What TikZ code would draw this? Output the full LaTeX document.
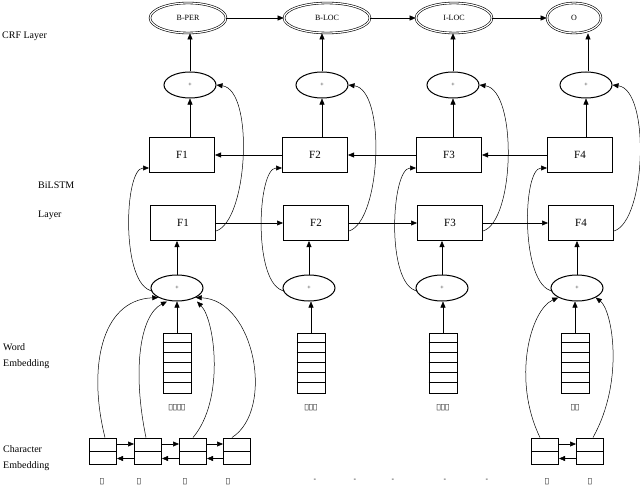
\documentclass[tikz,border=0pt]{standalone}
\usepackage{fontspec}
\setmainfont{Liberation Serif}
\newfontfamily\eth{DejaVu Sans}
\usetikzlibrary{shapes.geometric,arrows.meta}
\begin{document}
\begin{tikzpicture}[x=1pt,y=-1pt,
  arr/.style={-{Triangle[length=6pt,width=5pt]},line width=0.5pt},
  crf/.style={ellipse,draw,double,double distance=1.2pt,line width=0.6pt,minimum width=76pt,minimum height=30pt,inner sep=0pt,font=\fontsize{8}{9}\selectfont},
  plusn/.style={ellipse,draw,line width=1pt,minimum width=52pt,minimum height=26pt,inner sep=0pt,font=\fontsize{6}{7}\selectfont},
  fbox/.style={rectangle,draw,line width=1pt,minimum width=65pt,minimum height=35pt,inner sep=0pt,font=\fontsize{11}{13}\selectfont},
  cbox/.style={rectangle,draw,line width=1pt,minimum width=27pt,minimum height=26pt,inner sep=0pt},
  vec/.style={rectangle,draw,line width=1pt,minimum width=28pt,minimum height=60pt,inner sep=0pt},
  lab/.style={font=\fontsize{10}{16}\selectfont,align=left,anchor=west,inner sep=0pt},
  eth/.style={font=\eth\fontsize{7}{8}\selectfont,inner sep=0pt}]
\useasboundingbox (0,0) rectangle (640,487);
% left labels
\node[lab] (l1) at (2,36) {CRF Layer};
\node[lab] (l2) at (38,185) {BiLSTM};
\node[lab] (l3) at (38,215) {Layer};
\node[lab] (l4) at (3,356) {Word\\Embedding};
\node[lab] (l5) at (3,458) {Character\\Embedding};
% CRF
\node[crf] (c1) at (188,18) {B-PER};
\node[crf,minimum width=86pt] (c2) at (327,18) {B-LOC};
\node[crf] (c3) at (454,18) {I-LOC};
\node[crf,minimum width=54pt] (c4) at (574,18) {O};
\draw[arr] (c1) -- (c2); \draw[arr] (c2) -- (c3); \draw[arr] (c3) -- (c4);
% top plus
\foreach \i/\x in {1/190,2/322,3/453,4/586}{\node[plusn] (tp\i) at (\x,85) {+};}
% F boxes
\foreach \i/\x in {1/182,2/315,3/449,4/580}{
  \node[fbox] (tf\i) at (\x,155) {F\i};
  \node[fbox] (bf\i) at (\x+1,223) {F\i};}
% bottom plus
\foreach \i/\x in {1/177,2/309,3/442,4/577}{\node[plusn] (bp\i) at (\x,288) {+};}
% vertical arrows
\foreach \i/\x in {1/190,2/322,3/453,4/588}{
  \draw[arr] (tp\i.north -| \x,0) -- (c\i.south -| \x,0);}
\foreach \i/\x in {1/190,2/322,3/453,4/586}{
  \draw[arr] (tf\i.north -| \x,0) -- (tp\i.south -| \x,0);}
\foreach \i/\x in {1/177,2/309,3/442,4/577}{
  \draw[arr] (bp\i.north -| \x,0) -- (bf\i.south -| \x,0);}
% BiLSTM chains
\draw[arr] (tf2.west) -- (tf1.east);
\draw[arr] (tf3.west) -- (tf2.east);
\draw[arr] (tf4.west) -- (tf3.east);
\draw[arr] (bf1.east) -- (bf2.west);
\draw[arr] (bf2.east) -- (bf3.west);
\draw[arr] (bf3.east) -- (bf4.west);
% skip curves
\foreach \i in {1,2,3,4}{
  \draw[arr] ([yshift=-8pt]bf\i.east) .. controls +(32,-10) and +(38,5) .. (tp\i.east);
  \draw[arr] ([xshift=2pt,yshift=-3pt]bp\i.west) .. controls +(-32,-5) and +(-25,0) .. ([yshift=5pt]tf\i.south west);}
% word vectors
\foreach \i/\x/\w in {1/177/አህመድ,2/311/አዲስ,3/443/አበባ,4/575/ሄደ}{
  \node[vec] (v\i) at (\x,363) {};
  \foreach \k in {1,...,5}{\draw[line width=0.8pt] (v\i.north west) ++(0,10*\k) -- ++(28,0);}
  \node[eth] (w\i) at (\x,408) {\w};
  \draw[arr] (v\i.north) -- (bp\i.south -| v\i.north);}
% char boxes
\foreach \n/\x in {a/103,b/148,c/193,d/237,e/545,f/590}{
  \node[cbox] (ch\n) at (\x,451) {};
  \draw[line width=0.8pt] (ch\n.west) -- (ch\n.east);}
\foreach \p/\q in {a/b,b/c,c/d,e/f}{
  \draw[arr] ([yshift=7pt]ch\p.east) -- ([yshift=7pt]ch\q.west);
  \draw[arr] ([yshift=6pt]ch\q.south west) -- ([yshift=6pt]ch\p.south east);}
\foreach \n/\x/\c in {a/102/አ,b/139/ሀ,c/185/መ,d/228/ድ,e/547/ሄ,f/590/ደ}{\node[eth] (cl\n) at (\x,482) {\c};}
\foreach \x [count=\j] in {315,355,393,445,487}{\node[eth] (d\j) at (\x,480) {-};}
% char to plus curves
\draw[arr] ([xshift=2pt]cha.north) .. controls (88,370) and (100,300) .. (bp1.south west);
\draw[arr] ([xshift=-2pt]chb.north) .. controls (132,370) and (140,315) .. ([xshift=-10pt]bp1.south);
\draw[arr] (chc.north) .. controls (225,400) and (215,320) .. ([xshift=20pt]bp1.south);
\draw[arr] ([xshift=-5pt]chd.north) .. controls (275,410) and (255,300) .. (bp1.south east);
\draw[arr] ([xshift=-5pt]che.north) .. controls (512,380) and (530,310) .. (bp4.south west);
\draw[arr] ([xshift=3pt]chf.north) .. controls (625,380) and (612,310) .. (bp4.south east);
\end{tikzpicture}
\end{document}
